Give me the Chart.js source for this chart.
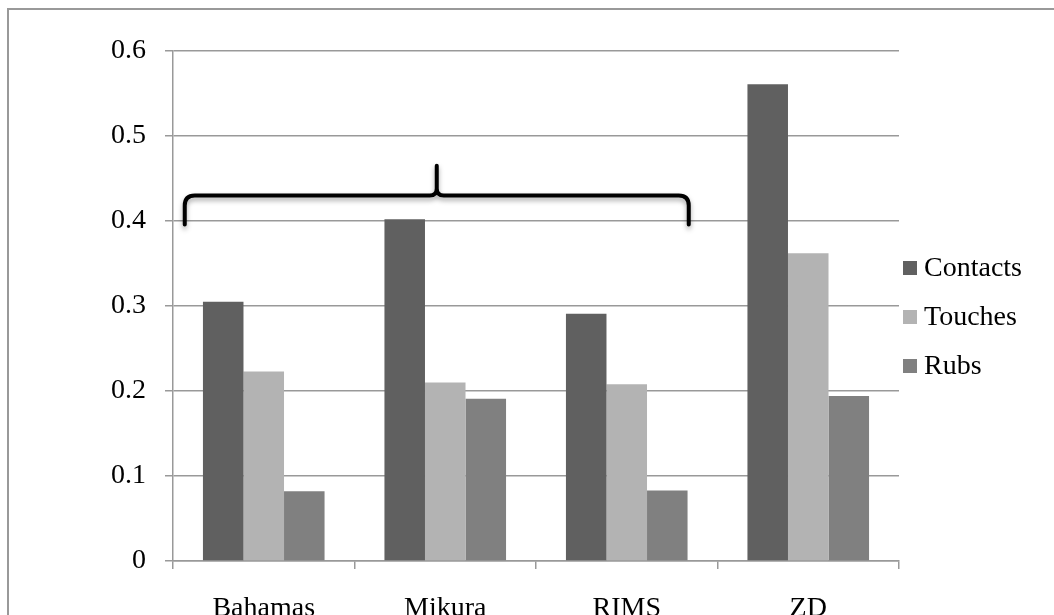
<!DOCTYPE html>
<html>
<head>
<meta charset="utf-8">
<script src="https://cdn.jsdelivr.net/npm/chart.js@4.4.1/dist/chart.umd.min.js"></script>
<style>
  html, body { margin: 0; padding: 0; background: #fff; overflow: hidden; }
  #frame { position: absolute; left: 7px; top: 8px; width: 1200px; height: 800px; border: 2px solid #999; box-sizing: border-box; }
  #wrap { position: absolute; left: 0; top: 0; width: 1054px; height: 650px; }
</style>
</head>
<body>
<div id="frame"></div>
<div id="wrap"><canvas id="myChart"></canvas></div>
<script>
var categories = ['Bahamas', 'Mikura', 'RIMS', 'ZD'];
var contacts = [0.305, 0.402, 0.291, 0.561];
var touches = [0.223, 0.210, 0.208, 0.362];
var rubs = [0.082, 0.191, 0.083, 0.194];
var yTicks = [0, 0.1, 0.2, 0.3, 0.4, 0.5, 0.6];

var serif = '"Liberation Serif", "Times New Roman", serif';

// legend drawn by hand, on the right
var sideLegend = {
  id: 'sideLegend',
  afterDraw: function(chart) {
    var ctx = chart.ctx;
    var rows = [268, 317, 366];
    ctx.save();
    ctx.font = '28px ' + serif;
    ctx.textBaseline = 'middle';
    chart.data.datasets.forEach(function(ds, i) {
      ctx.fillStyle = ds.backgroundColor;
      ctx.fillRect(903, rows[i] - 7, 14, 14);
      ctx.fillStyle = '#000';
      ctx.fillText(ds.label, 924, rows[i] + 1);
    });
    ctx.restore();
  }
};

// curly brace over the first three groups
var brace = {
  id: 'brace',
  afterDatasetsDraw: function(chart) {
    var x = chart.scales.x, y = chart.scales.y, ctx = chart.ctx;
    var L = x.getPixelForValue(0) - 79;
    var R = x.getPixelForValue(2) + 62;
    var M = (L + R) / 2;
    var yEnd = y.getPixelForValue(0.396);
    var yH = y.getPixelForValue(0.43);
    var yTop = y.getPixelForValue(0.465);
    var r = 10, r2 = 7;
    ctx.save();
    ctx.shadowColor = 'rgba(0,0,0,0.35)';
    ctx.shadowBlur = 5;
    ctx.shadowOffsetY = 3;
    ctx.strokeStyle = '#000';
    ctx.lineWidth = 4;
    ctx.lineCap = 'round';
    ctx.lineJoin = 'round';
    ctx.beginPath();
    ctx.moveTo(L, yEnd);
    ctx.lineTo(L, yH + r);
    ctx.quadraticCurveTo(L, yH, L + r, yH);
    ctx.lineTo(M - r2, yH);
    ctx.quadraticCurveTo(M, yH, M, yH - r2);
    ctx.lineTo(M, yTop);
    ctx.moveTo(M, yH - r2);
    ctx.quadraticCurveTo(M, yH, M + r2, yH);
    ctx.lineTo(R - r, yH);
    ctx.quadraticCurveTo(R, yH, R, yH + r);
    ctx.lineTo(R, yEnd);
    ctx.stroke();
    ctx.restore();
  }
};

var ctx = document.getElementById('myChart').getContext('2d');
var chart = new Chart(ctx, {
  type: 'bar',
  data: {
    labels: categories,
    datasets: [
      { label: 'Contacts', data: contacts, backgroundColor: '#606060' },
      { label: 'Touches', data: touches, backgroundColor: '#b3b3b3' },
      { label: 'Rubs', data: rubs, backgroundColor: '#808080' }
    ]
  },
  options: {
    responsive: true,
    maintainAspectRatio: false,
    animation: false,
    layout: { padding: { left: 0, top: 51, right: 155, bottom: 0 } },
    datasets: { bar: { categoryPercentage: 0.67, barPercentage: 1 } },
    plugins: { legend: { display: false }, tooltip: { enabled: false } },
    scales: {
      x: {
        grid: { offset: true, drawOnChartArea: false, color: '#999', lineWidth: 1.5, tickLength: 8 },
        border: { color: '#999', width: 1.5 },
        ticks: { color: '#000', font: { family: serif, size: 28 }, padding: 23, maxRotation: 0 },
        afterFit: function(s) { s.height = 89; }
      },
      y: {
        min: 0,
        max: 0.6,
        afterBuildTicks: function(s) { s.ticks = yTicks.map(function(v) { return { value: v }; }); },
        grid: { color: '#999', lineWidth: 1.5, tickLength: 8 },
        border: { color: '#999', width: 1.5 },
        ticks: {
          color: '#000', font: { family: serif, size: 28 }, padding: 19,
          callback: function(v) { return String(v); }
        },
        afterFit: function(s) { s.width = 173; }
      }
    }
  },
  plugins: [sideLegend, brace]
});
</script>
</body>
</html>
